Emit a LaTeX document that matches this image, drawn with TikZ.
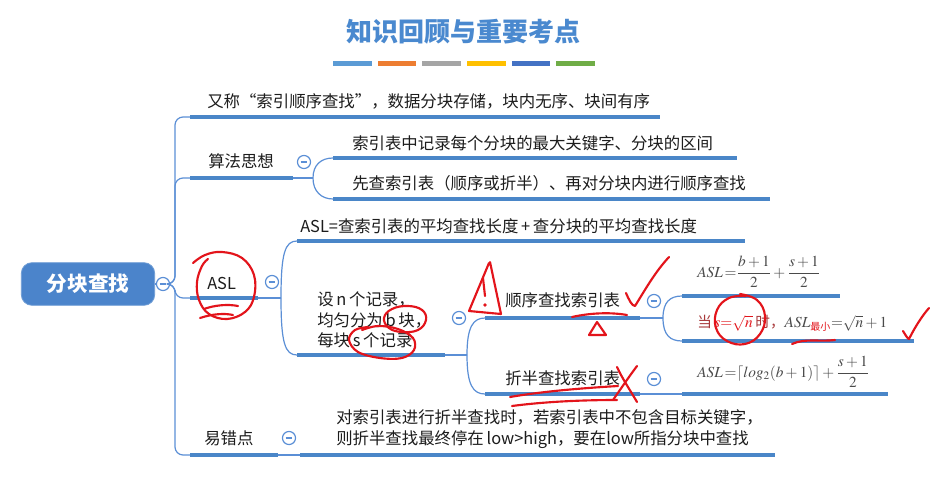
\documentclass[tikz,border=0pt]{standalone}
\usepackage{amsmath}
\usepackage{mathptmx}
\usepackage{fontspec}
\setmainfont{Noto Sans CJK SC}
\newfontfamily\cjk{Noto Sans CJK SC}
\usetikzlibrary{calc}

\definecolor{titleblue}{HTML}{4A89CF}
\definecolor{rootblue}{HTML}{4B84CB}
\definecolor{mmblue}{HTML}{4A86C8}
\definecolor{lineblue}{HTML}{5B8FD6}
\definecolor{txt}{HTML}{1C1C1C}
\definecolor{mathgray}{HTML}{4A4A4A}
\definecolor{inkred}{HTML}{E3141B}
\definecolor{darkred}{HTML}{A8383A}
\definecolor{barA}{HTML}{5B9BD5}
\definecolor{barB}{HTML}{ED7D31}
\definecolor{barC}{HTML}{A5A5A5}
\definecolor{barD}{HTML}{FFC000}
\definecolor{barE}{HTML}{4472C4}
\definecolor{barF}{HTML}{70AD47}

\begin{document}
\begin{tikzpicture}[x=0.75pt,y=-0.75pt,
  topic/.style={anchor=west, inner sep=0pt, text=txt, font=\fontsize{12.3}{15}\selectfont},
  multi/.style={topic, align=left, font=\fontsize{12.3}{15.5}\selectfont},
  formula/.style={anchor=west, inner sep=0pt, text=mathgray, font=\fontsize{11.5}{13}\selectfont},
  rootbox/.style={rounded corners=8pt, fill=rootblue, draw=rootblue!80!white, line width=0.6pt,
    minimum width=100pt, minimum height=32pt, text=white, font=\fontsize{15.5}{18}\selectfont\bfseries},
  uline/.style={draw=mmblue, line width=3pt},
  conn/.style={draw=lineblue, line width=0.9pt},
  trunkline/.style={conn, rounded corners=6pt},
  fold/.style={circle, draw=lineblue, line width=0.9pt, fill=white, minimum size=9.8pt, inner sep=0pt,
    path picture={\draw[lineblue, line width=0.8pt]
      ($(path picture bounding box.center)+(-2.6pt,0pt)$) -- ($(path picture bounding box.center)+(2.6pt,0pt)$);}},
  colorbar/.style={minimum width=29pt, minimum height=3.6pt, inner sep=0pt},
  ink/.style={draw=inkred, line width=1.6pt, line cap=round, line join=round}]

\useasboundingbox[fill=white] (0,0) rectangle (935,496);

% ---------- heading ----------
\node[font=\fontsize{19.5}{22}\selectfont\bfseries, text=titleblue] (title) at (463,32) {知识回顾与重要考点};
\foreach \c [count=\i from 0] in {barA,barB,barC,barD,barE,barF}
  \node[colorbar, fill=\c] (bar\i) at (352.5+44.6*\i,63.5) {};

% ---------- root ----------
\node[rootbox] (root) at (88,284) {分块查找};
\node[fold] (c0) at (163,284) {};
\draw[conn] (root.east) -- (c0.west);
\coordinate (trunk) at (175,284);

% ---------- branch: definition ----------
\node[topic] (t1) at (207,101) {又称“索引顺序查找”，数据分块存储，块内无序、块间有序};
\coordinate (u1a) at (190,117); \coordinate (u1b) at (660,117);

% ---------- branch: idea ----------
\node[topic] (t2) at (208,161) {算法思想};
\coordinate (u2a) at (190,178); \coordinate (u2b) at (293,178);
\node[fold] (c2) at (304,162) {};
\coordinate (j2) at (313,178);
\node[topic] (t21) at (352,143) {索引表中记录每个分块的最大关键字、分块的区间};
\coordinate (u21a) at (333,158); \coordinate (u21b) at (737,158);
\node[topic] (t22) at (352,183) {先查索引表（顺序或折半）、再对分块内进行顺序查找};
\coordinate (u22a) at (333,199); \coordinate (u22b) at (770,199);

% ---------- branch: ASL ----------
\node[topic] (t3) at (207,283) {ASL};
\coordinate (u3a) at (190,298); \coordinate (u3b) at (258,298);
\node[fold] (c3) at (272,282) {};
\coordinate (j3) at (281,298);
\node[topic] (t31) at (300,226) {ASL=查索引表的平均查找长度\,+\,查分块的平均查找长度};
\coordinate (u31a) at (297,241); \coordinate (u31b) at (745,241);
\node[multi] (t32) at (317,320) {设\,n\,个记录，\\均匀分为\,b\,块，\\每块\,s\,个记录};
\coordinate (u32a) at (297,355); \coordinate (u32b) at (445,355);
\node[fold] (c32) at (459,318) {};
\coordinate (j32) at (467,355);

\node[topic] (t321) at (505,300) {顺序查找索引表};
\coordinate (u321a) at (485,318); \coordinate (u321b) at (640,318);
\node[fold] (c321) at (654,301) {};
\coordinate (j321) at (663,318);
\node[formula] (f1) at (697,272) {$\displaystyle ASL\,{=}\frac{b+1}{2}+\frac{s+1}{2}$};
\coordinate (u3211a) at (682,296); \coordinate (u3211b) at (840,296);
\node[formula] (f2) at (697,323) {{\cjk\fontsize{11}{13}\selectfont\color{darkred}当}\,%
  $\color{inkred}s{=}\sqrt{n}$\,{\cjk\fontsize{11}{13}\selectfont\color{darkred}时，}%
  $ASL_{\hbox{\cjk\fontsize{7.5}{8}\selectfont\color{inkred}最小}}{=}\sqrt{n}+1$};
\coordinate (u3212a) at (682,341); \coordinate (u3212b) at (914,341);

\node[topic] (t322) at (505,378) {折半查找索引表};
\coordinate (u322a) at (485,394); \coordinate (u322b) at (640,394);
\node[fold] (c322) at (654,379) {};
\node[formula] (f3) at (697,372) {$\displaystyle ASL\,{=}\lceil log_2(b+1)\rceil+\frac{s+1}{2}$};
\coordinate (u3221a) at (682,394); \coordinate (u3221b) at (888,394);

% ---------- branch: pitfalls ----------
\node[topic] (t4) at (204,438) {易错点};
\coordinate (u4a) at (190,455); \coordinate (u4b) at (278,455);
\node[fold] (c4) at (289,438) {};
\node[multi, font=\fontsize{12.3}{16}\selectfont] (t41) at (336,429)
  {对索引表进行折半查找时，若索引表中不包含目标关键字，\\则折半查找最终停在\,low>high，要在low所指分块中查找};
\coordinate (u41a) at (300,455); \coordinate (u41b) at (775,455);

% ---------- connectors ----------
\draw[trunkline] (c0.east) -- (trunk) |- (u1a);
\draw[trunkline] (c0.east) -- (trunk) |- (u2a);
\draw[trunkline] (c0.east) -- (trunk) |- (u3a);
\draw[trunkline] (c0.east) -- (trunk) |- (u4a);

\draw[conn] (u2b) -- (j2);
\draw[conn] (j2) .. controls +(0,-13) and +(-12,0) .. (u21a);
\draw[conn] (j2) .. controls +(0,13) and +(-12,0) .. (u22a);

\draw[conn] (u3b) -- (j3);
\draw[conn] (j3) .. controls +(0,-45) and +(-12,0) .. (u31a);
\draw[conn] (j3) .. controls +(0,45) and +(-12,0) .. (u32a);

\draw[conn] (u32b) -- (j32);
\draw[conn] (j32) .. controls +(0,-28) and +(-12,0) .. (u321a);
\draw[conn] (j32) .. controls +(0,30) and +(-12,0) .. (u322a);

\draw[conn] (u321b) -- (j321);
\draw[conn] (j321) .. controls +(0,-16) and +(-12,0) .. (u3211a);
\draw[conn] (j321) .. controls +(0,17) and +(-12,0) .. (u3212a);

\draw[conn] (u322b) -- (u3221a);
\draw[conn] (u4b) -- (u41a);

% ---------- underlines ----------
\foreach \s in {1,2,21,22,3,31,32,321,3211,3212,322,3221,4,41}
  \draw[uline] (u\s a) -- (u\s b);

% ---------- red pen marks ----------
% loop round ASL
\draw[ink] plot[smooth, tension=0.65] coordinates {(193,263) (205,255) (222,252) (242,258) (254,275) (254,297) (245,312) (227,319) (209,314) (199,300) (197,282) (202,266) (208,259)};
\draw[ink] (204,309) .. controls (215,305) and (228,304) .. (238,306);
\draw[ink] (200,318) .. controls (212,314) and (224,313) .. (233,315);
% loops round b and s
\draw[ink] plot[smooth cycle, tension=0.7] coordinates {(384,318) (392,309) (408,306) (422,310) (426,320) (418,330) (402,332) (389,328)};
\draw[ink] plot[smooth, tension=0.6] coordinates {(362,330) (378,326) (398,329) (413,338) (414,350) (402,358) (380,358) (358,352) (349,340) (355,330) (368,327)};
% warning sign
\draw[ink] (489,263) -- (469,311) -- (501,314) -- (490,262);
\draw[ink] (483,278) -- (485,296);
\fill[inkred] (485,305) circle (1.4pt);
% tick, underline and small triangle at the sequential branch
\draw[ink] (626,293) .. controls (629,300) and (632,306) .. (635,306) .. controls (645,290) and (655,272) .. (669,257);
\draw[ink] (572,317) .. controls (590,313) and (610,312) .. (627,315);
\draw[ink] (597,322) -- (589,335) -- (606,335) -- cycle;
% loop round s = sqrt n
\draw[ink] plot[smooth, tension=0.7] coordinates {(746,296) (729,298) (717,310) (716,328) (727,341) (745,344) (760,334) (765,316) (757,300) (740,294)};
% squiggle under ASL min and tick at the far right
\draw[ink] (792,344) .. controls (805,338) and (820,342) .. (835,340);
\draw[ink] (903,331) .. controls (906,336) and (908,339) .. (909,339) .. controls (915,327) and (922,316) .. (929,308);
% underlines and cross at the binary branch
\draw[ink] (510,397) .. controls (545,391) and (585,388) .. (618,386);
\draw[ink] (512,406) .. controls (550,401) and (590,400) .. (617,400);
\draw[ink] (613,400) .. controls (620,390) and (628,378) .. (637,366);
\draw[ink] (617,367) .. controls (622,378) and (630,390) .. (637,402);
\end{tikzpicture}
\end{document}
